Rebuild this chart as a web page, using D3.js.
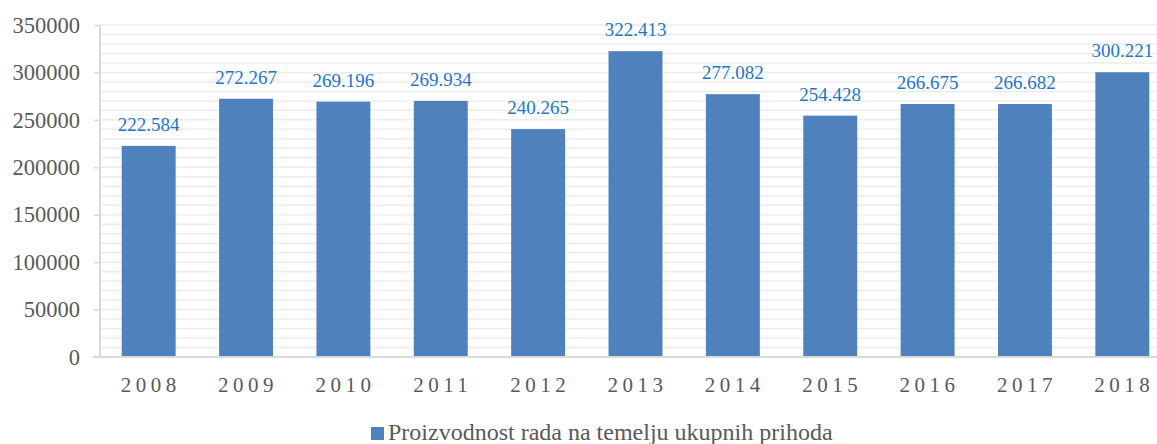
<!DOCTYPE html>
<html>
<head>
<meta charset="utf-8">
<script src="https://cdn.jsdelivr.net/npm/d3@7"></script>
<style>
  body { margin: 0; background: #fff; }
</style>
</head>
<body>
<div id="chart"></div>
<script>
// data
const years = ['2008', '2009', '2010', '2011', '2012', '2013', '2014', '2015', '2016', '2017', '2018'];
const values = [222584, 272267, 269196, 269934, 240265, 322413, 277082, 254428, 266675, 266682, 300221];
const yTicks = [0, 50000, 100000, 150000, 200000, 250000, 300000, 350000];
const seriesName = 'Proizvodnost rada na temelju ukupnih prihoda';

const width = 1157, height = 444;
const plot = { left: 100, right: 1171, top: 25, bottom: 357 };
const font = 'Liberation Serif';

const svg = d3.select('#chart')
  .append('svg')
  .attr('width', width)
  .attr('height', height)
  .attr('font-family', font);

const x = d3.scaleBand()
  .domain(years)
  .range([plot.left, plot.right])
  .paddingInner(0.446)
  .paddingOuter(0.223);

const y = d3.scaleLinear()
  .domain([0, 350000])
  .range([plot.bottom, plot.top]);

// minor + major gridlines
svg.append('g')
  .selectAll('line')
  .data(d3.range(10000, 350001, 10000))
  .join('line')
  .attr('x1', plot.left)
  .attr('x2', width)
  .attr('y1', d => y(d))
  .attr('y2', d => y(d))
  .attr('stroke', '#ececec')
  .attr('stroke-width', 1.5);

// y axis
svg.append('g')
  .attr('transform', `translate(${plot.left},0)`)
  .call(d3.axisLeft(y).tickValues(yTicks).tickSize(6).tickPadding(14).tickFormat(d3.format('d')))
  .attr('font-family', font)
  .attr('font-size', 22.5)
  .call(g => g.select('.domain').attr('stroke', '#d9d9d9').attr('stroke-width', 2)
    .attr('d', `M0,${plot.top}V${plot.bottom}`))
  .call(g => g.selectAll('.tick line').attr('stroke', '#d9d9d9').attr('stroke-width', 1.5))
  .call(g => g.selectAll('.tick text')
    .attr('fill', '#595959'));

// bars
svg.append('g')
  .selectAll('rect')
  .data(values)
  .join('rect')
  .attr('x', (d, i) => x(years[i]))
  .attr('y', d => y(d))
  .attr('width', x.bandwidth())
  .attr('height', d => y(0) - y(d))
  .attr('fill', '#4f81bd');

// x axis
svg.append('line')
  .attr('x1', plot.left - 7)
  .attr('x2', width)
  .attr('y1', y(0))
  .attr('y2', y(0))
  .attr('stroke', '#d9d9d9')
  .attr('stroke-width', 2);

svg.append('g')
  .selectAll('text')
  .data(years)
  .join('text')
  .attr('x', d => x(d) + x.bandwidth() / 2 + 2)
  .attr('y', 392)
  .attr('text-anchor', 'middle')
  .attr('fill', '#595959')
  .attr('font-size', 21)
  .attr('letter-spacing', 4.5)
  .text(d => d);

// value labels
const labelFmt = d3.formatLocale({ decimal: ',', thousands: '.', grouping: [3], currency: ['', ''] }).format(',d');
svg.append('g')
  .selectAll('text')
  .data(values)
  .join('text')
  .attr('x', (d, i) => x(years[i]) + x.bandwidth() / 2)
  .attr('y', d => y(d) - 15)
  .attr('text-anchor', 'middle')
  .attr('fill', '#1f77c6')
  .attr('font-size', 19)
  .text(d => labelFmt(d));

// legend
const legend = svg.append('g');
legend.append('rect')
  .attr('x', 371)
  .attr('y', 427)
  .attr('width', 13)
  .attr('height', 13)
  .attr('fill', '#4f81bd');
legend.append('text')
  .attr('x', 388)
  .attr('y', 440)
  .attr('fill', '#595959')
  .attr('font-size', 24)
  .text(seriesName);
</script>
</body>
</html>
